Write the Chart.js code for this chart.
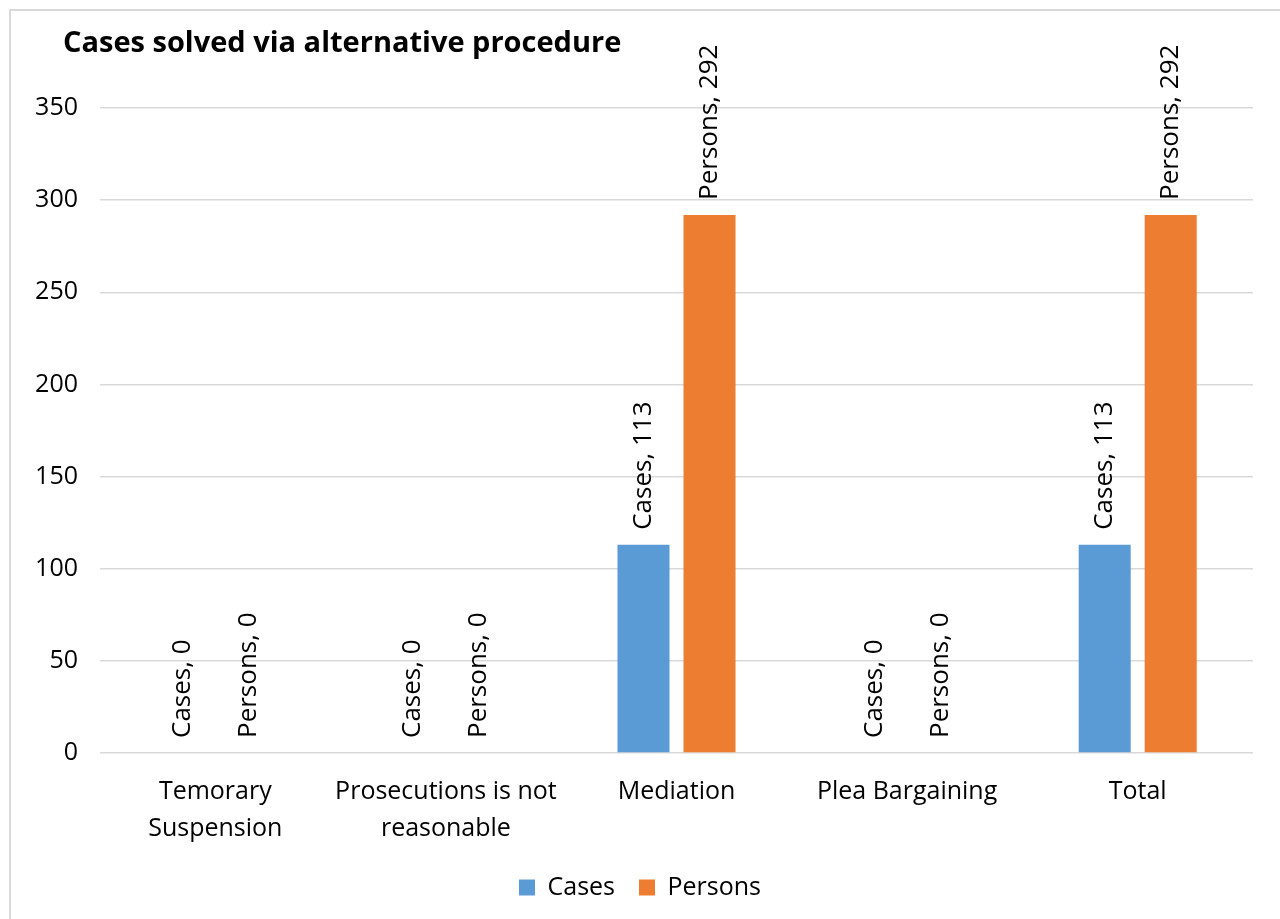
<!DOCTYPE html>
<html>
<head>
<meta charset="utf-8">
<title>Cases solved via alternative procedure</title>
<script src="https://cdn.jsdelivr.net/npm/chart.js@4"></script>
<style>
  body { margin: 0; background: #fff; overflow: hidden; }
  #wrap { position: relative; width: 1280px; height: 919px; }
  #frame {
    position: absolute; left: 9px; top: 9px; width: 1300px; height: 940px;
    border: 2px solid #d9d9d9; pointer-events: none;
  }
</style>
</head>
<body>
<div id="wrap">
  <canvas id="chart"></canvas>
  <div id="frame"></div>
</div>
<script>
const chartTitle = "Cases solved via alternative procedure";
const categories = [
  ["Temorary", "Suspension"],
  ["Prosecutions is not", "reasonable"],
  "Mediation",
  "Plea Bargaining",
  "Total"
];
const casesValues = [0, 0, 113, 0, 113];
const personsValues = [0, 0, 292, 0, 292];
const yTicks = [0, 50, 100, 150, 200, 250, 300, 350];

const FONT = "'Open Sans', 'Noto Sans', sans-serif";

// title sits left of the plot area, like the Excel original
const leftTitle = {
  id: "leftTitle",
  afterDraw(chart) {
    const ctx = chart.ctx;
    ctx.save();
    ctx.font = `bold 29px ${FONT}`;
    ctx.fillStyle = "#000";
    ctx.textAlign = "left";
    ctx.textBaseline = "alphabetic";
    ctx.fillText(chartTitle, 63, 52);
    ctx.restore();
  }
};

// rotated "Series, value" labels above each bar
const barLabels = {
  id: "barLabels",
  afterDatasetsDraw(chart) {
    const ctx = chart.ctx;
    ctx.save();
    ctx.font = `26px ${FONT}`;
    ctx.fillStyle = "#000";
    ctx.textAlign = "left";
    ctx.textBaseline = "middle";
    chart.data.datasets.forEach((ds, di) => {
      const meta = chart.getDatasetMeta(di);
      meta.data.forEach((bar, i) => {
        ctx.save();
        ctx.translate(bar.x, bar.y - 15);
        ctx.rotate(-Math.PI / 2);
        ctx.fillText(`${ds.label}, ${ds.data[i]}`, 0, 0);
        ctx.restore();
      });
    });
    ctx.restore();
  }
};

new Chart(document.getElementById("chart").getContext("2d"), {
  type: "bar",
  data: {
    labels: categories,
    datasets: [
      { label: "Cases", data: casesValues, backgroundColor: "#5B9BD5" },
      { label: "Persons", data: personsValues, backgroundColor: "#ED7D31" }
    ]
  },
  options: {
    animation: false,
    responsive: true,
    maintainAspectRatio: false,
    categoryPercentage: 0.5725,
    barPercentage: 0.788,
    layout: { padding: { left: 27, right: 27, top: 108, bottom: 9 } },
    plugins: {
      title: { display: false },
      legend: {
        position: "bottom",
        labels: {
          color: "#000",
          font: { family: FONT, size: 25 },
          boxWidth: 16,
          boxHeight: 16,
          padding: 24
        }
      },
      tooltip: { enabled: false }
    },
    scales: {
      x: {
        grid: { display: false },
        border: { display: false },
        ticks: {
          color: "#000",
          font: { family: FONT, size: 25, lineHeight: 1.45 },
          padding: 13,
          maxRotation: 0,
          autoSkip: false
        },
        afterFit(scale) { scale.height = 98; }
      },
      y: {
        min: 0,
        max: yTicks[yTicks.length - 1],
        grid: { color: "#d9d9d9", lineWidth: 1.5, drawTicks: false },
        border: { display: false },
        ticks: {
          stepSize: yTicks[1] - yTicks[0],
          color: "#000",
          font: { family: FONT, size: 25 },
          padding: 22,
          callback: v => (yTicks.includes(v) ? String(v) : "")
        },
        afterFit(scale) { scale.width = 73; }
      }
    }
  },
  plugins: [barLabels, leftTitle]
});
</script>
</body>
</html>
